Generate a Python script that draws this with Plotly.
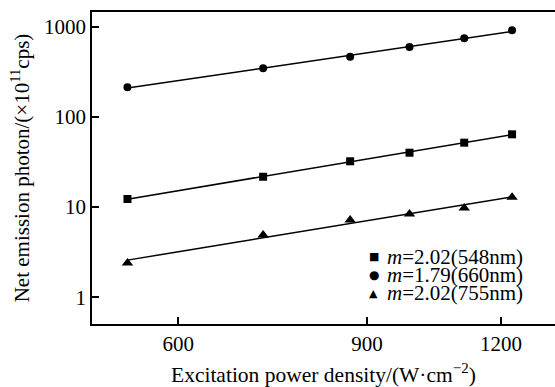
import numpy as np
import plotly.graph_objects as go

# Data
power = [538, 720, 868, 986, 1109, 1229]           # W·cm^-2
s548 = [12.3, 21.7, 32.2, 40.1, 51.8, 64.1]        # squares
s660 = [213, 346, 465, 596, 744, 912]              # circles
s755 = [2.4, 4.9, 7.2, 8.4, 9.8, 12.9]             # triangles

labels = ["<i>m</i>=2.02(548nm)", "<i>m</i>=1.79(660nm)", "<i>m</i>=2.02(755nm)"]
symbols = ["square", "circle", "triangle-up"]
glyphs = ["■", "●", "▲"]
series = [s548, s660, s755]

x_ticks = [600, 900, 1200]
y_ticks = [1, 10, 100, 1000]

FONT = "Liberation Serif"

fig = go.Figure()
lx = np.log10(power)
for vals, sym, lab in zip(series, symbols, labels):
    ly = np.log10(vals)
    k, b = np.polyfit(lx, ly, 1)
    xf = np.array([min(power), max(power)])
    yf = 10 ** (k * np.log10(xf) + b)
    fig.add_trace(go.Scatter(x=xf, y=yf, mode="lines",
                             line=dict(color="black", width=1.5),
                             showlegend=False, hoverinfo="skip"))
    fig.add_trace(go.Scatter(x=power, y=vals, mode="markers", name=lab,
                             marker=dict(symbol=sym, color="black",
                                         size=10 if sym == "triangle-up" else 8),
                             showlegend=False))

# legend drawn as text annotations (bottom right)
rows_y = [0.2157, 0.158, 0.0984]
glyph_sizes = [11, 12, 11]
for g, gs, lab, yy in zip(glyphs, glyph_sizes, labels, rows_y):
    fig.add_annotation(x=0.609, y=yy, xref="paper", yref="paper", text=g,
                       showarrow=False, xanchor="center", yanchor="middle",
                       font=dict(family="DejaVu Sans", size=gs, color="black"))
    fig.add_annotation(x=0.635, y=yy, xref="paper", yref="paper", text=lab,
                       showarrow=False, xanchor="left", yanchor="middle",
                       borderpad=0,
                       font=dict(family=FONT, size=21, color="black"))

fig.update_layout(
    width=555, height=387,
    margin=dict(l=92, r=0, t=12, b=63),
    plot_bgcolor="white", paper_bgcolor="white",
    font=dict(family=FONT, size=21, color="black"),
    showlegend=False,
)
fig.update_xaxes(type="log", range=[2.6977, 3.1296],
                 tickvals=x_ticks, ticktext=[str(v) for v in x_ticks],
                 tickfont=dict(family=FONT, size=21),
                 ticks="inside", ticklen=7, tickwidth=1.5, tickcolor="black",
                 showline=True, linecolor="black", linewidth=1.5, mirror=True,
                 showgrid=False, zeroline=False,
                 title=dict(text="Excitation power density/(W·cm<sup>−2</sup>)",
                            font=dict(family=FONT, size=21.5), standoff=14))
fig.update_yaxes(type="log", range=[-0.296, 3.163],
                 tickvals=y_ticks, ticktext=[str(v) for v in y_ticks],
                 tickfont=dict(family=FONT, size=21),
                 ticks="inside", ticklen=7, tickwidth=1.5, tickcolor="black",
                 showline=True, linecolor="black", linewidth=1.5, mirror=False,
                 showgrid=False, zeroline=False,
                 title=dict(text="Net emission photon/(×10<sup>11</sup>cps)",
                            font=dict(family=FONT, size=21), standoff=9))

fig.write_html("out.html")
